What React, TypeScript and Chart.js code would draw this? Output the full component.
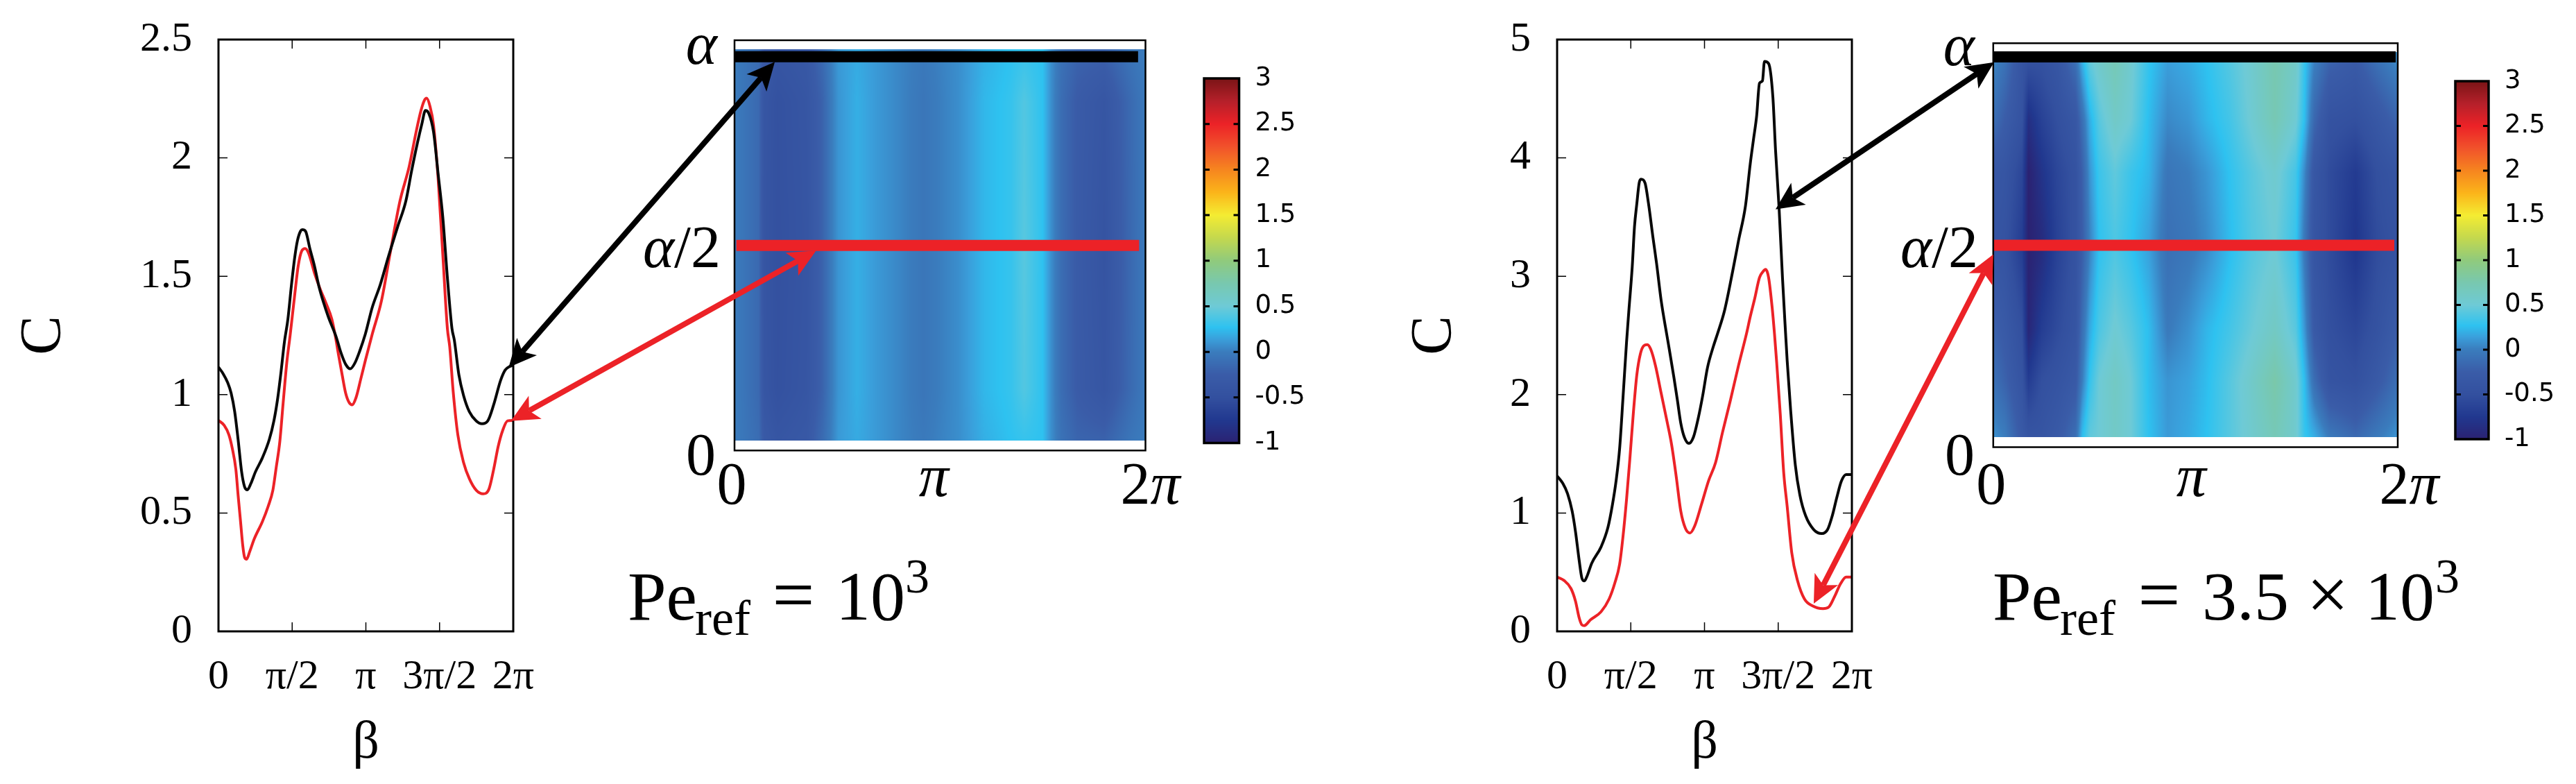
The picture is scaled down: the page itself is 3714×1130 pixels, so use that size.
import React, { useEffect, useRef } from "react";
import { Chart, registerables } from "chart.js";

Chart.register(...registerables);

// ---------- data: beta is given in units of pi ----------
const black1Beta = [0,.031,.063,.086,.11,.133,.157,.177,.196,.22,.251,.298,.345,.376,.4,.424,.447,.471,.494,.518,.536,.557,.569,.591,.62,.651,.682,.714,.745,.8,.831,.863,.894,.925,.957,.996,1.043,1.098,1.153,1.216,1.271,1.31,1.349,1.38,1.404,1.427,1.459,1.49,1.522,1.553,1.584,1.6,1.631,1.663,1.702,1.749,1.788,1.827,1.867,1.914,1.945,1.976,2];
const black1C = [1.116,1.089,1.05,1.006,.928,.811,.674,.611,.598,.625,.674,.733,.811,.889,.977,1.094,1.221,1.319,1.457,1.583,1.651,1.691,1.697,1.69,1.617,1.544,1.456,1.387,1.329,1.241,1.177,1.128,1.109,1.133,1.182,1.255,1.368,1.465,1.583,1.71,1.817,1.944,2.061,2.144,2.2,2.188,2.11,1.934,1.749,1.495,1.28,1.231,1.084,.996,.928,.889,.877,.889,.957,1.06,1.104,1.119,1.125];
const red1Beta = [0,.039,.071,.094,.118,.133,.149,.165,.177,.191,.212,.243,.298,.337,.369,.392,.416,.439,.463,.486,.518,.541,.565,.588,.612,.651,.69,.729,.769,.792,.816,.839,.863,.886,.907,.933,.965,.996,1.043,1.106,1.169,1.231,1.294,1.341,1.373,1.396,1.412,1.435,1.459,1.49,1.522,1.553,1.569,1.592,1.624,1.663,1.702,1.749,1.796,1.835,1.867,1.898,1.929,1.961,2];
const red1C = [.891,.87,.83,.772,.684,.576,.469,.361,.313,.305,.337,.391,.464,.528,.596,.694,.801,.967,1.133,1.25,1.426,1.544,1.607,1.617,1.597,1.514,1.446,1.387,1.319,1.25,1.163,1.084,1.006,.967,.957,.987,1.065,1.143,1.255,1.397,1.612,1.817,1.964,2.11,2.198,2.242,2.252,2.218,2.139,1.915,1.592,1.28,1.202,1.016,.83,.713,.645,.596,.581,.601,.684,.782,.85,.889,.891];
const black2Beta = [0,.039,.071,.102,.125,.149,.168,.185,.204,.235,.298,.345,.376,.4,.424,.447,.471,.486,.51,.525,.541,.557,.569,.596,.62,.651,.675,.706,.745,.761,.792,.816,.839,.863,.894,.925,.957,.988,1.02,1.059,1.09,1.137,1.192,1.231,1.278,1.31,1.333,1.354,1.373,1.393,1.407,1.435,1.464,1.482,1.506,1.529,1.55,1.561,1.584,1.616,1.647,1.686,1.741,1.796,1.835,1.867,1.898,1.929,1.961,1.997];
const black2C = [1.313,1.25,1.163,1.016,.84,.606,.45,.426,.469,.576,.713,.879,1.075,1.27,1.543,1.973,2.442,2.696,3.087,3.419,3.615,3.79,3.82,3.79,3.615,3.322,3.107,2.794,2.5,2.384,2.149,1.954,1.759,1.641,1.588,1.641,1.798,1.993,2.227,2.403,2.521,2.716,3.048,3.302,3.595,3.947,4.162,4.357,4.631,4.65,4.816,4.797,4.513,4.064,3.576,2.989,2.52,2.286,1.876,1.407,1.153,.977,.86,.826,.86,.977,1.133,1.27,1.325,1.325];
const red2Beta = [0,.047,.094,.125,.149,.168,.184,.227,.298,.353,.392,.424,.447,.471,.494,.518,.541,.565,.588,.612,.635,.667,.706,.745,.776,.808,.839,.871,.902,.933,.98,1.027,1.075,1.122,1.176,1.231,1.286,1.31,1.341,1.373,1.396,1.415,1.435,1.459,1.475,1.49,1.514,1.537,1.561,1.592,1.631,1.678,1.733,1.804,1.843,1.882,1.922,1.961,1.997];
const red2C = [.459,.43,.362,.254,.117,.055,.049,.098,.166,.274,.41,.567,.801,1.114,1.465,1.856,2.169,2.345,2.413,2.423,2.384,2.247,2.012,1.778,1.583,1.309,1.016,.869,.831,.889,1.075,1.27,1.426,1.68,1.954,2.247,2.521,2.657,2.814,2.989,3.038,3.058,2.989,2.736,2.511,2.267,1.837,1.348,1.055,.664,.43,.274,.215,.192,.205,.293,.4,.459,.459];

const lineTickValues = [0, 0.5, 1, 1.5, 2];
const lineTickLabels = ["0", "π/2", "π", "3π/2", "2π"];
const heatXValues = [0, 1, 2];
const heatXLabels = ["0", "π", "2π"];
const heatYLabels = ["0", "α/2", "α"];

const heat1Columns = [0,.118,.144,.21,.352,.428,.468,.506,.596,.688,.816,.92,1.088,1.216,1.346,1.41,1.5,1.54,1.592,1.67,1.8,1.928,2];
const heat1Alpha = [.0245,.15,.5,.85,.978];
const heat1RowEdge = [0,-.12,-.3,-.38,-.32,-.13,0,.12,.18,.12,.03,-.02,.07,.2,.27,.3,.27,.08,-.08,-.18,-.2,-.05,0];
const heat1RowQuarter = [0,-.15,-.38,-.47,-.38,-.2,-.02,.1,.2,.12,.03,-.05,.07,.23,.3,.4,.27,.08,-.12,-.27,-.38,-.14,-.02];
const heat1RowMiddle = [0,-.15,-.4,-.48,-.4,-.2,-.02,.1,.2,.12,.03,-.05,.07,.23,.3,.42,.27,.08,-.12,-.28,-.42,-.15,-.02];
const heat1Rows = [heat1RowEdge, heat1RowQuarter, heat1RowMiddle, heat1RowQuarter, heat1RowEdge];
const heat1LinesY = [0.9597, 0.5];

const heat2Columns = [0,.058,.142,.174,.24,.318,.408,.44,.478,.524,.602,.68,.77,.862,.964,1.054,1.172,1.276,1.392,1.496,1.54,1.586,1.664,1.792,1.896,2];
const heat2Alpha = [.025,.163,.293,.5,.68,.81,.978];
const heat2Row0 = [.08,0,-.3,-.4,-.4,-.3,-.1,.25,.45,.5,.6,.5,.27,.12,.18,.27,.42,.55,.7,.55,.3,.2,-.02,-.15,-.02,.1];
const heat2Row1 = [-.08,-.2,-.42,-.7,-.5,-.42,-.3,0,.3,.5,.62,.5,.25,.1,.15,.25,.42,.58,.78,.55,.25,-.1,-.42,-.48,-.3,-.1];
const heat2Row2 = [-.2,-.3,-.5,-.95,-.7,-.55,-.4,-.1,.18,.38,.52,.42,.25,-.02,.08,.22,.35,.48,.62,.42,.1,-.3,-.5,-.6,-.45,-.25];
const heat2Row3 = [-.4,-.45,-.7,-1,-.9,-.65,-.45,-.25,.02,.27,.38,.28,.14,-.1,-.05,.05,.25,.4,.5,.3,-.05,-.4,-.55,-.78,-.55,-.45];
const heat2Row4 = [-.35,-.4,-.6,-1,-.8,-.6,-.45,-.22,.1,.32,.45,.32,.22,-.05,0,.1,.28,.42,.55,.35,.05,-.35,-.55,-.72,-.5,-.4];
const heat2Row5 = [-.1,-.25,-.45,-.85,-.65,-.5,-.35,-.1,.2,.42,.6,.5,.25,.05,.1,.22,.35,.52,.72,.52,.25,-.15,-.45,-.5,-.35,-.18];
const heat2Row6 = [.08,-.05,-.4,-.42,-.45,-.35,-.05,.25,.5,.6,.72,.55,.3,.15,.2,.28,.42,.55,.75,.6,.3,.05,-.15,-.25,-.05,.1];
const heat2Rows = [heat2Row0, heat2Row1, heat2Row2, heat2Row3, heat2Row4, heat2Row5, heat2Row6];
const heat2LinesY = [0.966, 0.5];

const colorValues = [-1,-.75,-.5,-.25,0,.14,.27,.5,.75,1,1.25,1.5,1.75,2,2.25,2.5,2.75,3];
const colorHex = ["#2b2272","#21388f","#33509f","#3a5ca8","#3a7cbd","#3a9fdb","#2ec2f0","#6ecad6","#78c8af","#90ca7c","#c4d84e","#f4ec32","#fbb41a","#f6851f","#f1522b","#ec2227","#b5202a","#7a1416"];

const BLACK = "#080808";
const RED = "#ec2227";
const SERIF = "Liberation Serif";

// ---------- helpers ----------
const W = 3714, H = 1130;
const hexRgb = (h: string) => [1, 3, 5].map((i) => parseInt(h.slice(i, i + 2), 16));
const colorRgb = colorHex.map(hexRgb);
function colorAt(v: number) {
  const c = Math.max(colorValues[0], Math.min(colorValues[colorValues.length - 1], v));
  let i = 0;
  while (i < colorValues.length - 2 && c > colorValues[i + 1]) i++;
  const t = (c - colorValues[i]) / (colorValues[i + 1] - colorValues[i]);
  return colorRgb[i].map((a, k) => a + (colorRgb[i + 1][k] - a) * t);
}
function locate(arr: number[], v: number) {
  let i = 0;
  while (i < arr.length - 2 && v > arr[i + 1]) i++;
  const t = Math.max(0, Math.min(1, (v - arr[i]) / (arr[i + 1] - arr[i])));
  return [i, t];
}
const pts = (xs: number[], ys: number[]) => xs.map((x, i) => ({ x, y: ys[i] }));
const lineDs = (label: string, data: any, color: string, width: number) => ({
  label, data, borderColor: color, borderWidth: width, pointRadius: 0, fill: false,
  cubicInterpolationMode: "monotone", borderCapStyle: "butt", borderJoinStyle: "miter",
});
const noScalePadding = (s: any) => { s.paddingTop = 0; s.paddingBottom = 0; s.paddingLeft = 0; s.paddingRight = 0; };

function frameBox(left: number, top: number, right: number, bottom: number, yw: number, xh: number, yRight = false) {
  return {
    left, top, right, bottom, yw, xh,
    padding: yRight
      ? { left, top, right: W - right - yw, bottom: H - bottom - xh }
      : { left: left - yw, top, right: W - right, bottom: H - bottom - xh },
  };
}

const framePlugin = (lw: number, tickLen: number, tickW: number) => ({
  id: "frame",
  afterDatasetsDraw(chart: any) {
    const { ctx, chartArea: a, scales } = chart;
    ctx.save();
    ctx.strokeStyle = "#000";
    if (tickLen > 0) {
      ctx.lineWidth = tickW;
      ctx.beginPath();
      for (const t of scales.x.ticks) {
        const p = scales.x.getPixelForValue(t.value);
        if (p <= a.left + 1 || p >= a.right - 1) continue;
        ctx.moveTo(p, a.top); ctx.lineTo(p, a.top + tickLen);
        ctx.moveTo(p, a.bottom); ctx.lineTo(p, a.bottom - tickLen);
      }
      for (const t of scales.y.ticks) {
        const p = scales.y.getPixelForValue(t.value);
        if (p <= a.top + 2 || p >= a.bottom - 2) continue;
        ctx.moveTo(a.left, p); ctx.lineTo(a.left + tickLen, p);
        ctx.moveTo(a.right, p); ctx.lineTo(a.right - tickLen, p);
      }
      ctx.stroke();
    }
    ctx.lineWidth = lw;
    ctx.strokeRect(a.left, a.top, a.right - a.left, a.bottom - a.top);
    ctx.restore();
  },
});

const heatPlugin = (cols: number[], alphas: number[], rows: number[][]) => ({
  id: "heat",
  beforeDatasetsDraw(chart: any) {
    const { ctx, scales } = chart;
    const x0 = Math.round(scales.x.getPixelForValue(cols[0]));
    const x1 = Math.round(scales.x.getPixelForValue(cols[cols.length - 1]));
    const y0 = Math.round(scales.y.getPixelForValue(alphas[alphas.length - 1]));
    const y1 = Math.round(scales.y.getPixelForValue(alphas[0]));
    const w = x1 - x0, h = y1 - y0;
    const img = ctx.createImageData(w, h);
    for (let py = 0; py < h; py++) {
      const [ri, rt] = locate(alphas, scales.y.getValueForPixel(y0 + py + 0.5));
      for (let px = 0; px < w; px++) {
        const [ci, ct] = locate(cols, scales.x.getValueForPixel(x0 + px + 0.5));
        const a = rows[ri][ci] + (rows[ri][ci + 1] - rows[ri][ci]) * ct;
        const b = rows[ri + 1][ci] + (rows[ri + 1][ci + 1] - rows[ri + 1][ci]) * ct;
        const c = colorAt(a + (b - a) * rt);
        const o = (py * w + px) * 4;
        img.data[o] = c[0]; img.data[o + 1] = c[1]; img.data[o + 2] = c[2]; img.data[o + 3] = 255;
      }
    }
    ctx.putImageData(img, x0, y0);
  },
});

const barPlugin = () => ({
  id: "colorbar",
  beforeDatasetsDraw(chart: any) {
    const { ctx, chartArea: a, scales } = chart;
    const y0 = Math.floor(a.top), y1 = Math.ceil(a.bottom);
    for (let p = y0; p < y1; p++) {
      const c = colorAt(scales.y.getValueForPixel(p + 0.5));
      ctx.fillStyle = `rgb(${c[0]},${c[1]},${c[2]})`;
      ctx.fillRect(a.left, p, a.right - a.left, 1);
    }
  },
});

function drawMath(ctx: any, text: string, x: number, base: number, size: number, align: string) {
  const chars = Array.from(text);
  const fontFor = (ch: string) => (/[απ]/.test(ch) ? `italic ${size}px "${SERIF}"` : `${size}px "${SERIF}"`);
  const widths = chars.map((ch) => { ctx.font = fontFor(ch); return ctx.measureText(ch).width; });
  const total = widths.reduce((s, v) => s + v, 0);
  let cx = align === "right" ? x - total : align === "center" ? x - total / 2 : x;
  ctx.textAlign = "left";
  ctx.textBaseline = "alphabetic";
  ctx.fillStyle = "#000";
  chars.forEach((ch, i) => { ctx.font = fontFor(ch); ctx.fillText(ch, cx, base); cx += widths[i]; });
}

const mathTicksPlugin = (cfg: { xShift: number[]; xBase: number[]; yEdge: number[]; yBase: number[] }) => ({
  id: "mathTicks",
  afterDraw(chart: any) {
    const { ctx, scales } = chart;
    ctx.save();
    scales.x.ticks.forEach((t: any, i: number) => {
      drawMath(ctx, t.label, scales.x.getPixelForValue(t.value) + cfg.xShift[i], cfg.xBase[i], 86, "center");
    });
    scales.y.ticks.forEach((t: any, i: number) => {
      drawMath(ctx, t.label, cfg.yEdge[i], cfg.yBase[i], 86, "right");
    });
    ctx.restore();
  },
});

const notePlugin = (parts: any[]) => ({
  id: "note",
  afterDraw(chart: any) {
    const { ctx } = chart;
    ctx.save();
    ctx.fillStyle = "#000";
    ctx.textBaseline = "alphabetic";
    for (const p of parts) {
      ctx.font = `${p.size}px "${SERIF}"`;
      ctx.textAlign = p.align || "left";
      ctx.fillText(p.text, p.x, p.y);
    }
    ctx.restore();
  },
});

const arrowPlugin = (charts: Record<string, any>, arrows: any[]) => ({
  id: "arrows",
  afterDraw(chart: any) {
    const { ctx } = chart;
    const pos = (e: any) => {
      const c = charts[e.chart];
      return [c.scales.x.getPixelForValue(e.x), c.scales.y.getPixelForValue(e.y)];
    };
    ctx.save();
    for (const a of arrows) {
      const [ax, ay] = pos(a.from), [bx, by] = pos(a.to);
      const L = Math.hypot(bx - ax, by - ay);
      const ux = (bx - ax) / L, uy = (by - ay) / L, nx = -uy, ny = ux;
      const head = 40, half = 19, notch = 30;
      ctx.strokeStyle = a.color; ctx.fillStyle = a.color; ctx.lineWidth = a.width;
      ctx.beginPath();
      ctx.moveTo(ax + ux * notch, ay + uy * notch);
      ctx.lineTo(bx - ux * notch, by - uy * notch);
      ctx.stroke();
      for (const [tx, ty, s] of [[ax, ay, 1], [bx, by, -1]] as number[][]) {
        ctx.beginPath();
        ctx.moveTo(tx, ty);
        ctx.lineTo(tx + s * ux * head + nx * half, ty + s * uy * head + ny * half);
        ctx.lineTo(tx + s * ux * notch, ty + s * uy * notch);
        ctx.lineTo(tx + s * ux * head - nx * half, ty + s * uy * head - ny * half);
        ctx.closePath();
        ctx.fill();
      }
    }
    ctx.restore();
  },
});

function setTicks(values: number[], labels: string[]) {
  return {
    afterBuildTicks: (s: any) => { s.ticks = values.map((value) => ({ value })); },
    callback: (v: number) => labels[values.indexOf(v)],
  };
}

function lineConfig(box: any, yMax: number, yStep: number, datasets: any[]): any {
  const xt = setTicks(lineTickValues, lineTickLabels);
  return {
    type: "line",
    data: { datasets },
    plugins: [framePlugin(3, 13, 1.5)],
    options: {
      animation: false, responsive: false, devicePixelRatio: 1, events: [],
      layout: { padding: box.padding, autoPadding: false },
      plugins: { legend: { display: false }, tooltip: { enabled: false } },
      scales: {
        x: {
          type: "linear", min: 0, max: 2,
          afterBuildTicks: xt.afterBuildTicks,
          afterFit: (s: any) => { s.height = box.xh; noScalePadding(s); },
          grid: { display: false, drawTicks: false }, border: { display: false },
          ticks: { callback: xt.callback, autoSkip: false, maxRotation: 0, padding: 30, color: "#000", font: { family: SERIF, size: 60 } },
          title: { display: true, text: "β", color: "#000", padding: 0, font: { family: SERIF, size: 76 } },
        },
        y: {
          type: "linear", min: 0, max: yMax,
          afterFit: (s: any) => { s.width = box.yw; noScalePadding(s); },
          grid: { display: false, drawTicks: false }, border: { display: false },
          ticks: { stepSize: yStep, autoSkip: false, padding: 38, color: "#000", font: { family: SERIF, size: 60 }, callback: (v: number) => String(v) },
          title: { display: true, text: "C", color: "#000", padding: 0, font: { family: SERIF, size: 85 } },
        },
      },
    },
  };
}

function heatConfig(box: any, lineY: number[], plugins: any[], blackEnd: number, redStart: number, redEnd: number): any {
  const xt = setTicks(heatXValues, heatXLabels);
  const yValues = [0, lineY[1], lineY[0]];
  const yt = setTicks(yValues, heatYLabels);
  return {
    type: "line",
    data: {
      datasets: [
        { ...lineDs("alpha", pts([0, blackEnd], [lineY[0], lineY[0]]), "#000", 16), cubicInterpolationMode: "default" },
        { ...lineDs("alpha/2", pts([redStart, redEnd], [lineY[1], lineY[1]]), RED, 16), cubicInterpolationMode: "default" },
      ],
    },
    plugins: [...plugins, framePlugin(2.5, 0, 0)],
    options: {
      animation: false, responsive: false, devicePixelRatio: 1, events: [],
      layout: { padding: box.padding, autoPadding: false },
      plugins: { legend: { display: false }, tooltip: { enabled: false } },
      scales: {
        x: {
          type: "linear", min: 0, max: 2,
          afterBuildTicks: xt.afterBuildTicks,
          afterFit: (s: any) => { s.height = box.xh; noScalePadding(s); },
          grid: { display: false, drawTicks: false }, border: { display: false },
          ticks: { callback: xt.callback, display: false, autoSkip: false },
        },
        y: {
          type: "linear", min: 0, max: 1,
          afterBuildTicks: yt.afterBuildTicks,
          afterFit: (s: any) => { s.width = box.yw; noScalePadding(s); },
          grid: { display: false, drawTicks: false }, border: { display: false },
          ticks: { callback: yt.callback, display: false, autoSkip: false },
        },
      },
    },
  };
}

function barConfig(box: any, extra: any[]): any {
  return {
    type: "line",
    data: { datasets: [] },
    plugins: [barPlugin(), framePlugin(3.5, 8, 3), ...extra],
    options: {
      animation: false, responsive: false, devicePixelRatio: 1, events: [],
      layout: { padding: box.padding, autoPadding: false },
      plugins: { legend: { display: false }, tooltip: { enabled: false } },
      scales: {
        x: {
          type: "linear", min: 0, max: 1,
          afterFit: (s: any) => { s.height = box.xh; noScalePadding(s); },
          grid: { display: false, drawTicks: false }, border: { display: false },
          ticks: { display: false, count: 2 },
          afterBuildTicks: (s: any) => { s.ticks = []; },
        },
        y: {
          type: "linear", position: "right", min: -1, max: 3,
          afterFit: (s: any) => { s.width = box.yw; noScalePadding(s); },
          grid: { display: false, drawTicks: false }, border: { display: false },
          ticks: { stepSize: 0.5, autoSkip: false, padding: 23, color: "#000", font: { family: "DejaVu Sans", size: 37 }, callback: (v: number) => String(v) },
        },
      },
    },
  };
}

const canvasStyle: React.CSSProperties = { position: "absolute", left: 0, top: 0, display: "block" };
const KEYS = ["line1", "heat1", "bar1", "line2", "heat2", "bar2"];

export default function App() {
  const refs = useRef<Record<string, HTMLCanvasElement | null>>({});

  useEffect(() => {
    const charts: Record<string, any> = {};
    const note1 = [
      { text: "Pe", x: 905, y: 893, size: 100 },
      { text: "ref", x: 1002, y: 915, size: 72 },
      { text: "=", x: 1144, y: 893, size: 108, align: "center" },
      { text: "10", x: 1205, y: 893, size: 100 },
      { text: "3", x: 1305, y: 854, size: 70 },
    ];
    const note2 = [
      { text: "Pe", x: 2873, y: 893, size: 100 },
      { text: "ref", x: 2970, y: 915, size: 72 },
      { text: "=", x: 3113, y: 893, size: 108, align: "center" },
      { text: "3.5", x: 3175, y: 893, size: 100 },
      { text: "×", x: 3356, y: 893, size: 108, align: "center" },
      { text: "10", x: 3410, y: 893, size: 100 },
      { text: "3", x: 3511, y: 854, size: 70 },
    ];
    const arrows = [
      { from: { chart: "line1", x: 1.969, y: 1.115 }, to: { chart: "heat1", x: 0.196, y: 0.947 }, color: "#000", width: 8 },
      { from: { chart: "line1", x: 1.984, y: 0.889 }, to: { chart: "heat1", x: 0.397, y: 0.487 }, color: RED, width: 8 },
      { from: { chart: "line2", x: 1.482, y: 3.566 }, to: { chart: "heat2", x: 0.004, y: 0.953 }, color: "#000", width: 8 },
      { from: { chart: "line2", x: 1.741, y: 0.234 }, to: { chart: "heat2", x: 0, y: 0.477 }, color: RED, width: 8 },
    ];
    const configs: Record<string, any> = {
      line1: lineConfig(frameBox(315, 57, 740, 910, 301, 208), 2.5, 0.5, [
        lineDs("alpha", pts(black1Beta, black1C), BLACK, 4),
        lineDs("alpha/2", pts(red1Beta, red1C), RED, 4),
      ]),
      heat1: heatConfig(frameBox(1059, 58, 1651.5, 649.3, 300, 200), heat1LinesY, [
        heatPlugin(heat1Columns, heat1Alpha, heat1Rows),
        mathTicksPlugin({ xShift: [-4, -9, 7], xBase: [726, 715, 726], yEdge: [1032, 1039, 1034], yBase: [684, 385, 92] }),
        notePlugin(note1),
      ], 1.964, 0.009, 1.969),
      bar1: barConfig(frameBox(1736, 113, 1786.5, 638.5, 200, 100, true), []),
      line2: lineConfig(frameBox(2245, 57, 2670, 910, 226, 208), 5, 1, [
        lineDs("alpha", pts(black2Beta, black2C), BLACK, 4),
        lineDs("alpha/2", pts(red2Beta, red2C), RED, 4),
      ]),
      heat2: heatConfig(frameBox(2873.8, 62.3, 3457, 644.5, 300, 200), heat2LinesY, [
        heatPlugin(heat2Columns, heat2Alpha, heat2Rows),
        mathTicksPlugin({ xShift: [-3, -6, 16.5], xBase: [726, 715, 726], yEdge: [2847, 2852, 2847], yBase: [684, 385, 94] }),
        notePlugin(note2),
      ], 1.99, 0, 1.983),
      bar2: barConfig(frameBox(3540, 117, 3588, 633, 120, 100, true), [arrowPlugin(charts, arrows)]),
    };
    for (const k of KEYS) {
      charts[k] = new Chart(refs.current[k] as HTMLCanvasElement, configs[k]);
    }
    return () => { for (const k of KEYS) charts[k]?.destroy(); };
  }, []);

  return (
    <div style={{ width: W, height: H, background: "#fff", position: "absolute", left: 0, top: 0, overflow: "hidden" }}>
      {KEYS.map((k) => (
        <canvas key={k} width={W} height={H} style={canvasStyle} ref={(el) => { refs.current[k] = el; }} />
      ))}
    </div>
  );
}
